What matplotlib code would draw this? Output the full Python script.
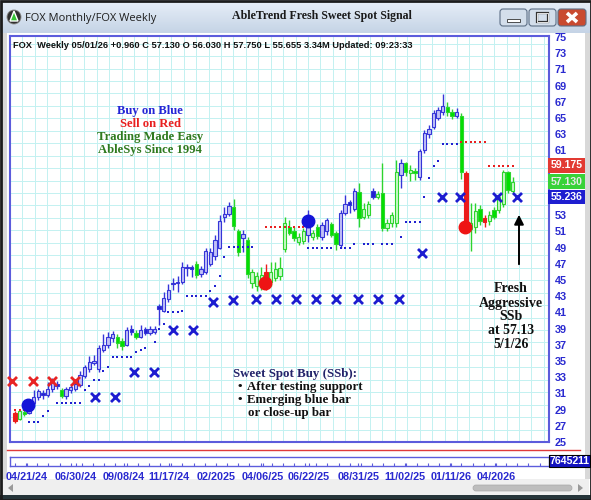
import numpy as np
import matplotlib
matplotlib.use('Agg')
import matplotlib.pyplot as plt
from matplotlib.patches import Rectangle, FancyBboxPatch, Circle, Polygon
from matplotlib.colors import LinearSegmentedColormap
from matplotlib.transforms import blended_transform_factory

W, H = 591, 500

# weekly FOX bars (04/2024 .. 05/01/26)
opens = [28.6, 27.9, 28.7, 28.6, 29.8, 30.5, 31.0, 30.8, 31.5, 32.2,
         31.4, 30.7, 31.4, 31.6, 32.0, 33.2, 34.0, 34.8, 34.0, 36.4,
         37.0, 37.8, 38.0, 37.5, 37.0, 39.0, 38.5, 38.0, 38.9, 38.4,
         38.6, 41.8, 41.2, 42.6, 44.6, 44.6, 44.7, 46.5, 46.6, 47.0,
         45.8, 46.0, 47.0, 48.0, 49.0, 52.8, 53.1, 54.0, 51.0, 50.2,
         50.0, 44.6, 44.3, 44.3, 46.0, 44.8, 45.3, 45.5, 48.8, 51.6,
         51.0, 49.7, 49.8, 50.5, 50.3, 51.6, 50.3, 51.0, 51.9, 50.8,
         49.3, 53.3, 54.6, 53.8, 55.9, 52.8, 53.0, 56.0, 55.2, 55.8,
         51.4, 52.0, 52.0, 58.0, 59.4, 58.2, 58.5, 57.7, 61.0, 63.0,
         63.9, 65.0, 65.7, 66.3, 65.8, 65.3, 65.3, 58.2, 51.3, 51.5,
         53.8, 52.6, 52.3, 53.6, 53.6, 54.4, 58.3, 56.03]
highs = [28.8, 29.0, 29.2, 30.1, 31.4, 31.6, 31.4, 32.4, 32.9, 32.5,
         31.7, 31.8, 32.2, 32.5, 33.8, 34.5, 35.6, 35.8, 37.0, 38.3,
         38.6, 38.7, 38.3, 37.9, 39.2, 39.4, 38.8, 39.5, 39.2, 39.3,
         39.3, 42.0, 43.5, 44.5, 45.3, 45.5, 47.2, 47.0, 46.9, 47.4,
         46.7, 49.0, 48.9, 50.5, 53.0, 54.0, 54.6, 55.0, 51.3, 51.2,
         50.3, 46.3, 46.0, 46.6, 47.0, 47.2, 47.2, 47.8, 52.8, 52.4,
         51.6, 50.8, 51.4, 53.6, 51.2, 51.9, 52.2, 52.6, 52.1, 51.0,
         53.6, 55.5, 54.9, 56.3, 57.0, 54.5, 54.8, 56.4, 56.0, 59.4,
         52.5, 53.4, 59.8, 60.0, 59.6, 59.2, 58.8, 61.2, 63.5, 64.1,
         66.0, 66.3, 68.0, 67.0, 66.1, 66.2, 65.6, 58.4, 54.5, 54.5,
         54.2, 53.0, 53.5, 54.0, 55.6, 58.6, 58.5, 57.75]
lows = [27.4, 27.7, 28.2, 28.4, 29.5, 30.2, 30.3, 30.5, 31.2, 31.5,
        30.4, 30.3, 31.1, 31.3, 31.8, 32.9, 33.7, 34.5, 33.6, 36.1,
        36.6, 37.4, 36.6, 36.4, 36.8, 38.2, 37.7, 37.9, 38.2, 38.2,
        38.3, 39.5, 41.0, 42.3, 43.8, 43.5, 44.5, 45.5, 45.4, 45.3,
        45.4, 45.8, 46.7, 47.5, 48.8, 52.2, 52.9, 51.2, 48.0, 48.4,
        45.2, 44.0, 43.6, 43.8, 43.8, 44.3, 44.9, 45.0, 48.5, 50.5,
        49.8, 49.3, 49.4, 49.7, 50.0, 50.1, 49.9, 50.6, 50.3, 48.7,
        48.9, 53.0, 53.3, 53.5, 51.6, 52.5, 52.7, 55.0, 55.0, 51.0,
        51.0, 51.5, 51.5, 56.3, 57.8, 57.2, 57.4, 57.4, 60.7, 62.5,
        63.6, 64.7, 65.4, 65.3, 64.9, 65.0, 57.5, 51.0, 48.6, 50.8,
        51.8, 51.6, 51.8, 52.5, 53.3, 54.0, 55.7, 55.655]
closes = [27.6, 28.8, 28.4, 29.8, 30.6, 31.3, 30.8, 31.6, 32.5, 31.9,
          30.7, 31.5, 31.8, 32.1, 33.3, 34.2, 34.9, 35.0, 36.6, 37.0,
          38.0, 38.3, 37.2, 36.8, 38.8, 38.6, 38.0, 38.8, 38.5, 39.0,
          39.0, 41.4, 42.8, 43.8, 44.5, 44.7, 46.6, 46.6, 46.4, 45.6,
          46.3, 48.6, 48.4, 50.0, 52.3, 53.2, 54.1, 51.7, 48.5, 50.7,
          45.8, 46.0, 45.5, 45.6, 44.6, 46.0, 46.3, 46.5, 52.0, 50.8,
          50.2, 50.3, 51.0, 51.5, 50.8, 50.4, 51.8, 52.4, 50.6, 49.4,
          53.3, 54.4, 54.2, 56.0, 52.6, 53.8, 54.4, 55.3, 55.6, 51.4,
          52.0, 53.0, 58.3, 59.4, 58.3, 58.6, 58.2, 60.9, 63.1, 63.6,
          65.6, 66.0, 66.5, 65.7, 65.3, 65.8, 58.3, 51.5, 52.0, 53.5,
          52.3, 52.2, 53.0, 52.8, 55.2, 58.3, 56.17, 57.13]
# bar colour: b = blue (buy), g = green (neutral), r = red (sell)
trend = list("rggbbbbbbb" "gbbbbbbbbb" "bbggbbgbbb" "bbbbbbbbbg" "bbbbbbbggb"
             "ggggrggggg" "gggbggbbgg" "bbbbgggbgg" "gggbgggbbb" "bbbggbgrgg"
             "grgggggg")

# monthly signal crosses (week index, price)
red_x_idx = [-0.6, 3.9, 8.0, 12.9]
red_x_px = [32.5, 32.5, 32.5, 32.5]
blue_x_idx = [17.2, 21.5, 25.6, 29.9, 34.0, 38.3, 42.6, 46.9, 51.8, 56.1, 60.4,
              64.7, 69.0, 73.8, 78.1, 82.6, 87.5, 91.8, 95.7, 103.7, 108.0]
blue_x_px = [30.5, 30.5, 33.6, 33.6, 38.8, 38.8, 42.3, 42.5, 42.6, 42.6, 42.6,
             42.6, 42.6, 42.6, 42.6, 42.6, 48.3, 55.2, 55.2, 55.2, 55.2]

# trailing stop dots
sup_idx = [3, 4, 5, 6, 7, 9, 10, 11, 12, 13, 14, 15, 16, 17, 18, 19, 20,
           21, 22, 23, 24, 25, 26, 27, 28, 30, 31, 32, 33, 34, 35, 36,
           37, 38, 39, 40, 41, 42, 43, 44, 45, 46, 47, 48, 49, 50, 51,
           63, 64, 65, 66, 67, 68, 70, 71, 72, 73, 75, 76, 77, 79, 80, 81,
           83, 84, 85, 86, 87, 88, 89, 90, 91, 92, 93, 94, 95]
sup_px = [27.5, 27.5, 27.5, 28.2, 28.8, 29.8, 29.8, 29.8, 29.8, 29.8, 29.8, 31.4, 31.9, 32.6, 32.6, 33.8, 34.3,
          35.5, 35.5, 35.5, 35.5, 35.5, 36.1, 36.4, 36.6, 37.3, 39.0, 39.6, 41.0, 41.0, 41.1, 41.2,
          43.0, 43.0, 43.0, 43.0, 43.0, 43.6, 44.3, 45.5, 47.9, 49.1, 49.1, 49.1, 49.1, 49.1, 49.1,
          49.0, 49.0, 49.0, 49.0, 49.0, 49.0, 49.0, 49.0, 49.0, 49.5, 49.5, 49.5, 49.5, 49.5, 49.5, 49.5,
          50.3, 52.1, 52.1, 52.1, 52.1, 55.2, 57.6, 59.1, 59.7, 61.8, 61.8, 61.8, 61.8]
res_idx = [0, 1, 2, 54, 55, 56, 57, 58, 59, 60, 61, 62,
           96, 97, 98, 99, 100, 101, 102, 103, 104, 105, 106, 107]
res_px = [29.0, 29.0, 29.0, 51.5, 51.5, 51.5, 51.5, 51.5, 51.5, 51.5, 51.5, 51.5,
          62.0, 62.0, 62.0, 62.0, 62.0, 62.0, 59.1, 59.1, 59.1, 59.1, 59.1, 59.1]

# big signal dots
buy_idx, buy_px = [2.8, 63.0], [29.6, 52.3]
sell_idx, sell_px = [53.8, 96.8], [44.6, 51.5]

# last values on the price scale
stop_levels = [59.175, 57.130, 55.236]
price_ticks = list(range(25, 76, 2))
date_pos = [2.6, 13.1, 23.4, 33.1, 43.2, 53.3, 63.2, 73.8, 83.9, 93.8, 103.4]
date_labels = ['04/21/24', '06/30/24', '09/08/24', '11/17/24', '02/2025', '04/06/25',
               '06/22/25', '08/31/25', '11/02/25', '01/11/26', '04/2026']
volume_max = 7645211

NARROW = ['Liberation Sans Narrow', 'Liberation Sans']
SERIF = ['Liberation Serif', 'DejaVu Serif']
plt.rcParams['font.family'] = ['Liberation Sans', 'DejaVu Sans']

BLUE_TXT = '#2a2ad0'
FRAME = '#5c5cdc'

fig = plt.figure(figsize=(W / 100, H / 100), dpi=100)
fig.patch.set_facecolor('white')

# ---- window chrome (pixel coordinates) ----
bg = fig.add_axes([0, 0, 1, 1], zorder=-1)
tb_cmap = LinearSegmentedColormap.from_list('tb', ['#e8eff8', '#c5d4e6'])
bg.imshow(np.linspace(0, 1, 40)[:, None], extent=[0, W, 33, 0], cmap=tb_cmap, aspect='auto')
bg.add_patch(Rectangle((1, 33), 6, 446, fc='#d8d8d8', ec='none'))
bg.add_patch(Rectangle((585, 33), 5, 446, fc='#d8d8d8', ec='none'))
bg.add_patch(Rectangle((2, 479), 587, 17, fc='#efefef', ec='none'))
bg.add_patch(Rectangle((0, 495), W, 5, fc='#26353a', ec='none'))
bg.add_patch(Rectangle((0.5, 0.5), W - 1, H - 1, fill=False, ec='#1c1c1c', lw=2))
bg.plot([7, 580], [450, 450], color='#e03a3a', lw=1)
# scroll bar
bg.add_patch(FancyBboxPatch((473, 485), 99, 6, boxstyle='round,pad=0,rounding_size=3',
                            fc='#bdbdbd', ec='#a8a8a8', lw=0.5))
bg.add_patch(Polygon([[13, 484], [13, 492], [8, 488]], closed=True, fc='#9a9a9a', ec='none'))
bg.add_patch(Polygon([[578, 484], [578, 492], [583, 488]], closed=True, fc='#9a9a9a', ec='none'))
# title bar buttons
for bx, bw, fc in [(500, 27, '#d3deeb'), (529, 27, '#d3deeb'), (558, 28, '#c94a30')]:
    bg.add_patch(FancyBboxPatch((bx, 9), bw, 17, boxstyle='round,pad=0,rounding_size=3',
                                fc=fc, ec='#5d6f86', lw=0.8))
bg.add_patch(Rectangle((507, 19), 13, 3, fc='white', ec='#333333', lw=0.6))
bg.add_patch(Rectangle((537, 13), 11, 9, fill=False, ec='#333333', lw=1.6))
bg.add_patch(Rectangle((537, 13), 11, 9, fill=False, ec='white', lw=0.6))
bg.plot([567, 577], [13, 22], color='white', lw=2.6, solid_capstyle='butt')
bg.plot([567, 577], [22, 13], color='white', lw=2.6, solid_capstyle='butt')
# app icon
bg.add_patch(Circle((14, 17), 7, fc='#2f2f2f', ec='#888888', lw=0.6))
bg.add_patch(Polygon([[10, 21], [14, 11], [18, 21]], closed=True, fc='#35c435', ec='white', lw=1))
bg.text(25, 18, 'FOX Monthly/FOX Weekly', fontsize=8, family=['Open Sans', 'DejaVu Sans'],
        color='#1e1e1e', va='center', ha='left')
bg.text(322, 16, 'AbleTrend Fresh Sweet Spot Signal', fontsize=8.6, family=SERIF,
        fontweight='bold', color='#1a1a1a', va='center', ha='center')
bg.set_xlim(0, W)
bg.set_ylim(H, 0)
bg.axis('off')

# ---- price chart ----
X0, BAR = 15.0, 4.65          # pixel of first bar, pixels per week
PX_TOP, PX_BOT, PPU = 36, 442, 8.1
xlim = ((10 - X0) / BAR, (549 - X0) / BAR)
ylim = (25, 25 + (PX_BOT - PX_TOP) / PPU)

ax = fig.add_axes([10 / W, 1 - PX_BOT / H, 539 / W, (PX_BOT - PX_TOP) / H])
ax.set_facecolor('white')
ax.set_xlim(*xlim)
ax.set_ylim(*ylim)
ax.set_xticks([])
ax.set_xticks(np.arange(xlim[0], xlim[1], 2.67), minor=True)
ax.set_yticks(price_ticks)
# labels under the last-value boxes are hidden, as on the platform
covered = [round(v) for v in stop_levels]
ax.set_yticklabels(['' if any(abs(t - cv) < 1 for cv in covered) else str(t) for t in price_ticks])
ax.set_yticks(25 + 1.537 * np.arange(33), minor=True)
ax.grid(True, which='minor', color='#c3f1f1', lw=0.7)
ax.set_axisbelow(True)
ax.yaxis.tick_right()
ax.tick_params(axis='both', which='both', length=0)
ax.tick_params(axis='y', which='major', pad=4, labelsize=7.8, labelcolor=BLUE_TXT)
for lbl in ax.get_yticklabels():
    lbl.set_fontweight('bold')
    lbl.set_family(NARROW)
for sp in ax.spines.values():
    sp.set_color(FRAME)
    sp.set_linewidth(1.5)

o, hi, lo, c = map(np.array, (opens, highs, lows, closes))
x = np.arange(len(o))
edge = {'b': '#3535d8', 'g': '#2ed42e', 'r': '#ec1c1c'}
solid = {'b': '#2020d0', 'g': '#00e000', 'r': '#ec1c1c'}
light = {'b': '#c2c2f6', 'g': '#caf8ca', 'r': '#f6b0b0'}
ec = [edge[t] for t in trend]
fc = [solid[t] if cc < oo else light[t] for t, oo, cc in zip(trend, o, c)]
ax.vlines(x, lo, hi, colors=ec, lw=1, zorder=2)
ax.bar(x, np.maximum(np.abs(c - o), 0.15), 0.72, bottom=np.minimum(o, c),
       color=fc, edgecolor=ec, linewidth=0.8, zorder=3)

ax.plot(sup_idx, sup_px, 's', ms=1.8, color='#2020d0', mew=0, zorder=4)
ax.plot(res_idx, res_px, 's', ms=1.8, color='#e82020', mew=0, zorder=4)
ax.scatter(red_x_idx, red_x_px, marker='x', s=42, linewidths=2, color='#e82424', zorder=5, clip_on=False)
ax.scatter(blue_x_idx, blue_x_px, marker='x', s=42, linewidths=2, color='#1c1cd0', zorder=5)
ax.plot(buy_idx, buy_px, 'o', ms=9, color='#1414d8', zorder=6)
ax.plot(sell_idx, sell_px, 'o', ms=9, color='#ee1414', zorder=6)

tr = blended_transform_factory(ax.transAxes, ax.transData)
for val, bc, tc in zip(stop_levels, ['#e23a32', '#38d238', '#1e1ed0'], ['white', '#e8e8e8', 'white']):
    ax.text(1.003, val, f'{val:.3f}', transform=tr, ha='left', va='center', fontsize=7.6,
            family=NARROW, fontweight='bold', color=tc, clip_on=False, zorder=7,
            bbox=dict(boxstyle='square,pad=0.22', fc=bc, ec='none'))

# ---- volume strip with dates ----
vax = fig.add_axes([10 / W, 1 - 466 / H, 539 / W, 9 / H])
vax.set_xlim(*xlim)
vax.set_ylim(0, 1)
vax.set_yticks([])
vax.set_xticks(date_pos)
vax.set_xticklabels(date_labels)
vax.set_xticks(np.arange(0, xlim[1], 2.4), minor=True)
vax.tick_params(axis='x', which='both', direction='in', color=FRAME, length=2.5, width=0.8)
vax.tick_params(axis='x', which='major', pad=4.5, labelsize=7.8, labelcolor=BLUE_TXT)
for lbl in vax.get_xticklabels():
    lbl.set_fontweight('bold')
    lbl.set_family(NARROW)
for sp in vax.spines.values():
    sp.set_color(FRAME)
    sp.set_linewidth(1)

# ---- annotations (pixel coordinates) ----
ov = fig.add_axes([0, 0, 1, 1], zorder=10)
ov.set_xlim(0, W)
ov.set_ylim(H, 0)
ov.axis('off')
ov.patch.set_alpha(0)

ov.text(13, 46, 'FOX  Weekly 05/01/26 +0.960 C 57.130 O 56.030 H 57.750 L 55.655 3.34M Updated: 09:23:33',
        fontsize=6.7, family=NARROW, fontweight='bold', color='#111111', ha='left', va='center')

for txt, yy, col in [('Buy on Blue', 111, '#2424d6'), ('Sell on Red', 124, '#e82020'),
                     ('Trading Made Easy', 137, '#2f7a1f'), ('AbleSys Since 1994', 150, '#2f7a1f')]:
    ov.text(150, yy, txt, fontsize=9.1, family=SERIF, fontweight='bold', color=col,
            ha='center', va='center')

ov.text(233, 374, 'Sweet Spot Buy (SSb):', fontsize=9.3, family=SERIF, fontweight='bold',
        color='#23236a', ha='left', va='center')
for txt, yy in [('After testing support', 387), ('Emerging blue bar', 400)]:
    ov.text(238, yy, '\u2022', fontsize=9.3, family=SERIF, fontweight='bold', color='#111111',
            ha='left', va='center')
    ov.text(247, yy, txt, fontsize=9.3, family=SERIF, fontweight='bold', color='#111111',
            ha='left', va='center')
ov.text(248, 413, 'or close-up bar', fontsize=9.3, family=SERIF, fontweight='bold',
        color='#111111', ha='left', va='center')

for txt, yy in [('Fresh', 289), ('Aggressive', 303), ('SSb', 317), ('at 57.13', 331), ('5/1/26', 345)]:
    ov.text(511, yy, txt, fontsize=10, family=SERIF, fontweight='bold', color='#111111',
            ha='center', va='center')
ov.annotate('', xy=(519, 212), xytext=(519, 267),
            arrowprops=dict(arrowstyle='-|>', color='black', lw=1.4, mutation_scale=14))

ov.add_patch(Rectangle((549, 455), 41, 12, fc='#1212c0', ec='#000000', lw=0.8))
ov.text(569.5, 461, f'{volume_max}', fontsize=7.6, family=NARROW, fontweight='bold',
        color='white', ha='center', va='center')

fig.savefig('out.png', dpi=100)
